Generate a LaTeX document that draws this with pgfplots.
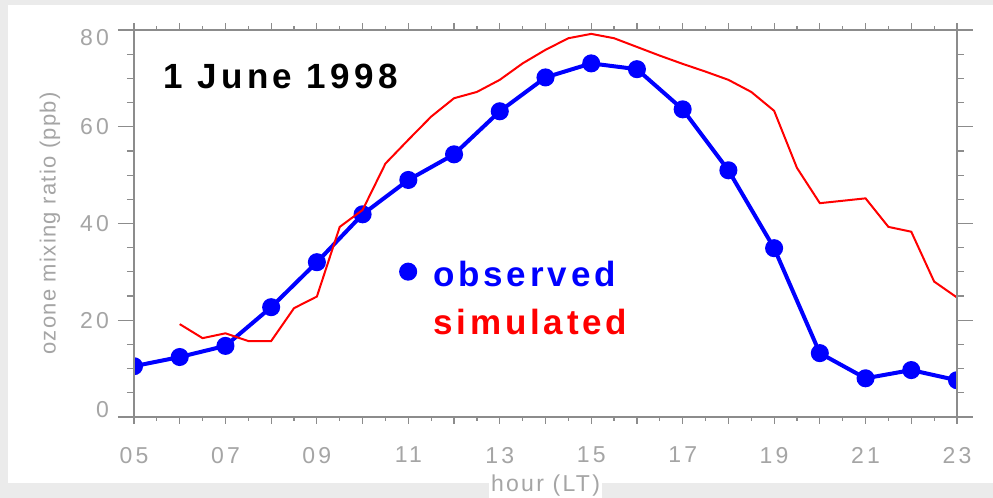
\documentclass[border=0pt]{standalone}
\usepackage{pgfplots}
\pgfplotsset{compat=1.18}
\usepackage{pgfplotstable}
\usepackage{fontspec}
\setmainfont{Liberation Sans}
\newfontfamily\boldfont[LetterSpace=11]{Liberation Sans Bold}
\newfontfamily\titlefont[LetterSpace=13]{Liberation Sans Bold}
\newfontfamily\labelfont[LetterSpace=14]{Liberation Sans}
\newfontfamily\ylabelfont[LetterSpace=6]{Liberation Sans}
\newfontfamily\xlabelfont[LetterSpace=10]{Liberation Sans}
\definecolor{axgray}{RGB}{140,140,140}
\definecolor{lblgray}{RGB}{165,165,165}
\definecolor{bggray}{RGB}{235,235,235}

\pgfplotstableread{
h v
5 10.5
6 12.4
7 14.7
8 22.7
9 32.0
10 41.9
11 49.0
12 54.3
13 63.2
14 70.2
15 73.1
16 71.9
17 63.6
18 51.0
19 34.9
20 13.2
21 8.0
22 9.7
23 7.6
}\obsdata

\pgfplotstableread{
h v
6 19.2
6.5 16.3
7 17.3
7.5 15.7
8 15.7
8.5 22.5
9 24.9
9.5 39.3
10 42.8
10.5 52.4
11 57.3
11.5 62.1
12 65.9
12.5 67.2
13 69.7
13.5 73.1
14 75.9
14.5 78.3
15 79.2
15.5 78.3
16 76.5
16.5 74.7
17 73.0
17.5 71.4
18 69.7
18.5 67.2
19 63.3
19.5 51.5
20 44.2
20.5 44.7
21 45.2
21.5 39.3
22 38.3
22.5 28.0
23 24.7
}\simdata

\begin{document}
\begin{tikzpicture}
\useasboundingbox (-67pt,-40.5pt) rectangle (429.5pt,208.5pt);
\fill[bggray] (-67pt,-40.5pt) rectangle (429.5pt,208.5pt);
\fill[white] (-63pt,-33pt) rectangle (429.5pt,206pt);
\begin{axis}[
  scale only axis, width=411.5pt, height=193.5pt,
  xmin=5, xmax=23, ymin=0, ymax=80,
  xtick=\empty,
  ytick={0,20,40,60,80},
  minor y tick num=3,
  tick align=outside,
  major tick length=8pt, minor tick length=3.5pt,
  axis line style={axgray, line width=0.6pt},
  tick style={axgray, line width=0.6pt},
  yticklabel style={font=\labelfont\fontsize{11.5}{13}\selectfont, text=lblgray,
    xshift=-1pt, yshift={3.5*(\tick==0)-4*(\tick==80)}},
  /pgf/number format/assume math mode=true,
  clip marker paths=true,
  legend style={draw=none, fill=none, at={(axis description cs:0.3144,0.1845)}, anchor=south west,
    font=\boldfont\fontsize{17.5}{20}\selectfont, row sep=5.5pt},
  legend cell align=left,
]
\addplot[blue, line width=2pt, mark=*, mark size=3.5pt,
  legend image code/.code={\path[draw=none,fill=none] (0pt,0pt) -- (14pt,0pt); \fill[blue] (3.5pt,0.2em) circle (3.5pt);}]
  table[x=h, y=v] {\obsdata};
\addlegendentry{\textcolor{blue}{observed}}
\addplot[red, line width=1pt, legend image code/.code={}]
  table[x=h, y=v] {\simdata};
\addlegendentry{\textcolor{red}{simulated}}
\end{axis}
\begin{axis}[
  scale only axis, width=411.5pt, height=193.5pt,
  xmin=5, xmax=23, ymin=0, ymax=80,
  ytick=\empty,
  xtick={5,...,23},
  xticklabels={05,,07,,09,,11,,13,,15,,17,,19,,21,,23},
  minor x tick num=1,
  tick align=outside,
  major tick length=3.5pt, minor tick length=2pt,
  axis line style={axgray, line width=0.6pt},
  tick style={axgray, line width=0.6pt},
  xticklabel style={font=\labelfont\fontsize{11.5}{13}\selectfont, text=lblgray, yshift=-8pt},
]
\end{axis}
\node[anchor=base west, inner sep=0pt, font=\titlefont\fontsize{17.5}{20}\selectfont] at (14.5pt,164pt) {1 June 1998};
\node[rotate=90, text=lblgray, font=\ylabelfont\fontsize{11}{13}\selectfont] at (-42pt,96.75pt) {ozone mixing ratio (ppb)};
\node[anchor=base, fill=white, inner sep=1pt, text=lblgray, font=\xlabelfont\fontsize{11.5}{13}\selectfont] at (205.75pt,-37.5pt) {hour (LT)};
\end{tikzpicture}
\end{document}
